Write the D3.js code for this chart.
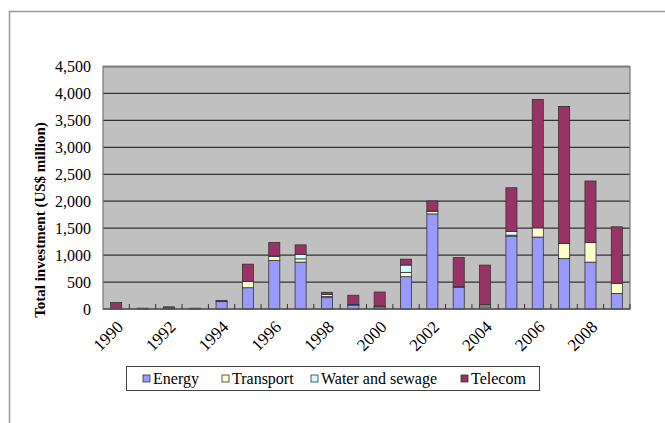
<!DOCTYPE html>
<meta charset="utf-8">
<script src="https://d3js.org/d3.v7.min.js"></script>
<style>
  body { margin: 0; background: #fff; }
</style>
<body>
<div id="chart"></div>
<script>
    // data (US$ million)
    const years = ["1990", "1991", "1992", "1993", "1994", "1995", "1996", "1997", "1998", "1999",
                   "2000", "2001", "2002", "2003", "2004", "2005", "2006", "2007", "2008", "2009"];
    const energy    = [0, 0, 0, 0, 140, 395, 900, 870, 210, 70, 40, 600, 1765, 400, 40, 1350, 1335, 935, 870, 290];
    const transport = [0, 0, 0, 0, 0, 117, 75, 60, 20, 10, 5, 80, 45, 15, 35, 20, 170, 280, 365, 185];
    const water     = [0, 0, 0, 0, 0, 0, 10, 80, 40, 5, 10, 135, 10, 0, 5, 70, 0, 0, 0, 0];
    const telecom   = [120, 15, 40, 15, 20, 320, 250, 180, 40, 170, 260, 110, 185, 540, 735, 810, 2385, 2545, 1140, 1050];
    const seriesNames = ["Energy", "Transport", "Water and sewage", "Telecom"];
    const colors = ["#9999ff", "#ffffcc", "#ccffff", "#993366"];
    const yTicks = [0, 500, 1000, 1500, 2000, 2500, 3000, 3500, 4000, 4500];

    const serif = "Liberation Serif";

    const W = 665, H = 423;
    const margin = {top: 66.5, right: 35, bottom: 114, left: 103};
    const width = W - margin.left - margin.right,
          height = H - margin.top - margin.bottom;

    const root = d3.select("#chart").append("svg")
        .attr("width", W)
        .attr("height", H);

    // outer frame (runs off the right and bottom edges)
    root.append("rect")
        .attr("x", 9.5).attr("y", 11.5)
        .attr("width", 700).attr("height", 450)
        .attr("fill", "none")
        .attr("stroke", "#999")
        .attr("stroke-width", 1.5);

    const svg = root.append("g")
        .attr("transform", `translate(${margin.left}, ${margin.top})`);

    const rows = years.map((y, i) => ({
        year: y,
        "Energy": energy[i],
        "Transport": transport[i],
        "Water and sewage": water[i],
        "Telecom": telecom[i]
    }));
    const stack = d3.stack().keys(seriesNames)(rows);

    const x = d3.scaleBand()
        .domain(years)
        .range([0, width])
        .paddingInner(0.58)
        .paddingOuter(0.29);

    const y = d3.scaleLinear()
        .domain([0, 4500])
        .range([height, 0]);

    // plot background
    svg.append("rect")
        .attr("width", width).attr("height", height)
        .attr("fill", "#c0c0c0");

    // gridlines
    svg.append("g")
        .selectAll("line")
        .data(yTicks.filter(d => d > 0))
        .join("line")
            .attr("x1", 0).attr("x2", width)
            .attr("y1", d => y(d)).attr("y2", d => y(d))
            .attr("stroke", "#333")
            .attr("stroke-width", 1.3);

    // plot border
    svg.append("rect")
        .attr("width", width).attr("height", height)
        .attr("fill", "none")
        .attr("stroke", "#777")
        .attr("stroke-width", 1.2);

    // bars
    svg.append("g")
        .selectAll("g")
        .data(stack)
        .join("g")
            .attr("fill", (d, i) => colors[i])
        .selectAll("rect")
        .data(d => d.filter(p => p[1] - p[0] > 0))
        .join("rect")
            .attr("x", d => x(d.data.year))
            .attr("y", d => y(d[1]))
            .attr("width", x.bandwidth())
            .attr("height", d => y(d[0]) - y(d[1]))
            .attr("stroke", "#333")
            .attr("stroke-width", 0.8);

    // x axis line and inward ticks at category boundaries
    const step = x.step();
    svg.append("line")
        .attr("x1", 0).attr("x2", width)
        .attr("y1", height).attr("y2", height)
        .attr("stroke", "#555").attr("stroke-width", 1.5);
    svg.append("g")
        .selectAll("line")
        .data(d3.range(1, years.length + 1))
        .join("line")
            .attr("x1", d => d * step).attr("x2", d => d * step)
            .attr("y1", height).attr("y2", height - 5)
            .attr("stroke", "#333");

    // x labels, every other year, rotated
    svg.append("g")
        .selectAll("text")
        .data(years.filter((d, i) => i % 2 === 0))
        .join("text")
            .attr("transform", d => `translate(${x(d) + x.bandwidth() / 2 + 8}, ${height + 19}) rotate(-45)`)
            .attr("text-anchor", "end")
            .style("font-family", serif)
            .style("font-size", "17px")
            .text(d => d);

    // y labels
    svg.append("g")
        .selectAll("text")
        .data(yTicks)
        .join("text")
            .attr("x", -12)
            .attr("y", d => y(d))
            .attr("dy", "0.35em")
            .attr("text-anchor", "end")
            .style("font-family", serif)
            .style("font-size", "16px")
            .text(d => d3.format(",")(d));

    // y title
    root.append("text")
        .attr("transform", "translate(45, 220) rotate(-90)")
        .attr("text-anchor", "middle")
        .style("font-family", serif)
        .style("font-size", "15px")
        .style("font-weight", "bold")
        .text("Total investment  (US$ million)");

    // legend
    const legend = root.append("g");
    legend.append("rect")
        .attr("x", 126.5).attr("y", 366.5)
        .attr("width", 413).attr("height", 24)
        .attr("fill", "#fff")
        .attr("stroke", "#444");
    const legendX = [143, 222, 311, 461];
    const item = legend.selectAll(".item")
        .data(seriesNames)
        .join("g")
            .attr("class", "item")
            .attr("transform", (d, i) => `translate(${legendX[i]}, 378.5)`);
    item.append("rect")
        .attr("x", 0).attr("y", -3.5)
        .attr("width", 7).attr("height", 7)
        .attr("fill", (d, i) => colors[i])
        .attr("stroke", "#333")
        .attr("stroke-width", 0.8);
    item.append("text")
        .attr("x", 10)
        .attr("dy", "0.35em")
        .style("font-family", serif)
        .style("font-size", "16px")
        .text(d => d);
</script>
</body>
